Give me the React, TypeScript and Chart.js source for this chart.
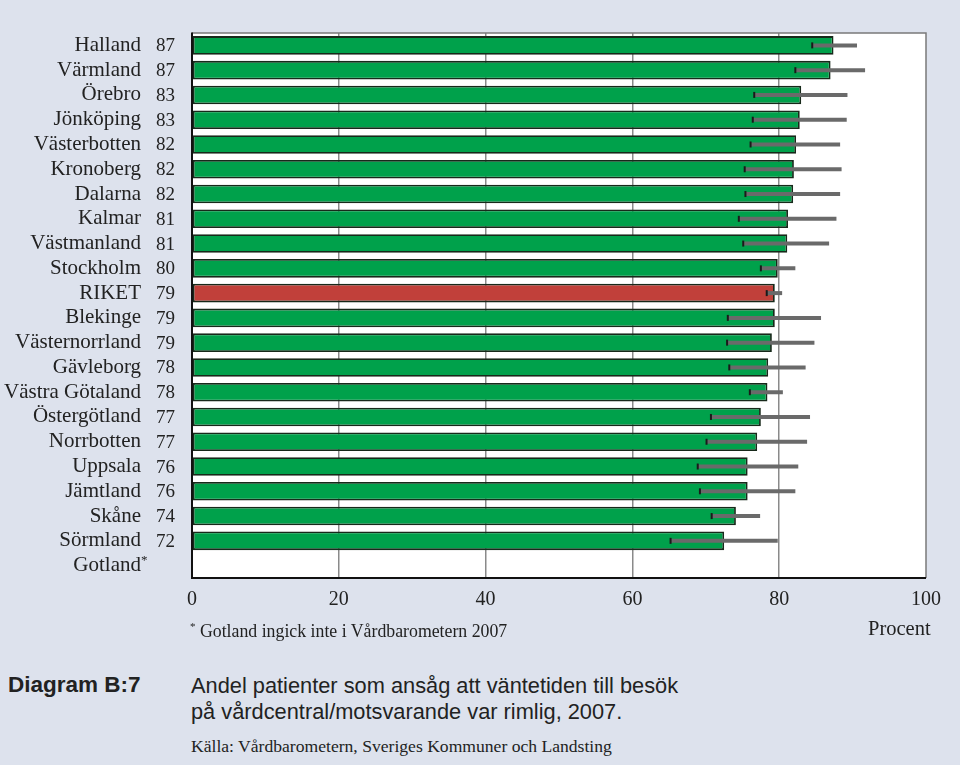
import React, { useEffect, useRef } from "react";
import { Chart, registerables } from "chart.js";

Chart.register(...registerables);

const regions = [
  "Halland", "Värmland", "Örebro", "Jönköping", "Västerbotten", "Kronoberg", "Dalarna",
  "Kalmar", "Västmanland", "Stockholm", "RIKET", "Blekinge", "Västernorrland", "Gävleborg",
  "Västra Götaland", "Östergötland", "Norrbotten", "Uppsala", "Jämtland", "Skåne", "Sörmland", "Gotland",
];
const valueLabels = ["87", "87", "83", "83", "82", "82", "82", "81", "81", "80", "79", "79", "79", "78", "78", "77", "77", "76", "76", "74", "72", ""];
const shares = [87.4, 87.0, 83.0, 82.8, 82.3, 82.0, 81.9, 81.2, 81.1, 79.8, 79.4, 79.4, 79.0, 78.5, 78.4, 77.5, 77.0, 75.7, 75.7, 74.1, 72.5, null];
const lowerBounds = [84.5, 82.2, 76.6, 76.4, 76.1, 75.3, 75.4, 74.5, 75.1, 77.5, 78.3, 73.0, 72.9, 73.2, 76.0, 70.7, 70.1, 68.9, 69.2, 70.8, 65.2, null];
const upperBounds = [90.6, 91.7, 89.3, 89.2, 88.3, 88.5, 88.3, 87.8, 86.8, 82.2, 80.4, 85.7, 84.8, 83.6, 80.5, 84.2, 83.8, 82.6, 82.2, 77.4, 79.8, null];
const xTicks = [0, 20, 40, 60, 80, 100];

const BG = "#dde2ed";
const GREEN = "#00a14b";
const RED = "#c1403a";
const SERIF = "'Liberation Serif', 'DejaVu Serif', serif";
const SANS = "'Liberation Sans', Arial, sans-serif";

const framePlugin = {
  id: "frame",
  beforeDraw(chart: any) {
    const { ctx, chartArea: a } = chart;
    ctx.save();
    ctx.fillStyle = "#ffffff";
    ctx.fillRect(a.left, a.top, a.right - a.left, a.bottom - a.top);
    ctx.restore();
  },
  afterDraw(chart: any) {
    const { ctx, chartArea: a, scales } = chart;
    ctx.save();
    ctx.strokeStyle = "#7a7a7a";
    ctx.lineWidth = 1.5;
    ctx.beginPath();
    ctx.moveTo(a.left, a.top);
    ctx.lineTo(a.right, a.top);
    ctx.lineTo(a.right, a.bottom);
    ctx.stroke();
    ctx.strokeStyle = "#111";
    ctx.lineWidth = 2;
    ctx.beginPath();
    ctx.moveTo(a.left, a.top - 0.5);
    ctx.lineTo(a.left, a.bottom);
    ctx.lineTo(a.right, a.bottom);
    ctx.stroke();
    // value labels
    const y = scales.y;
    ctx.fillStyle = "#222";
    ctx.font = `19px ${SERIF}`;
    ctx.textAlign = "right";
    ctx.textBaseline = "middle";
    valueLabels.forEach((v, i) => {
      if (v) ctx.fillText(v, 175, y.getPixelForValue(i) + 1);
    });
    // asterisk for Gotland
    ctx.font = `13px ${SERIF}`;
    ctx.textAlign = "left";
    ctx.fillText("*", 141, y.getPixelForValue(regions.length - 1) - 5);
    ctx.restore();
  },
};

const errorBarPlugin = {
  id: "errorBars",
  afterDatasetsDraw(chart: any) {
    const { ctx, scales } = chart;
    const meta = chart.getDatasetMeta(0);
    ctx.save();
    meta.data.forEach((bar: any, i: number) => {
      const lo = lowerBounds[i];
      const hi = upperBounds[i];
      if (lo == null || hi == null) return;
      const x1 = scales.x.getPixelForValue(lo);
      const x2 = scales.x.getPixelForValue(hi);
      const yy = bar.y;
      ctx.strokeStyle = "#6a6a6a";
      ctx.lineWidth = 4;
      ctx.beginPath();
      ctx.moveTo(x1, yy);
      ctx.lineTo(x2, yy);
      ctx.stroke();
      ctx.fillStyle = "#1a1a1a";
      ctx.fillRect(x1 - 1, yy - 3, 2, 6);
    });
    ctx.restore();
  },
};

function BarChart() {
  const ref = useRef<HTMLCanvasElement | null>(null);
  useEffect(() => {
    if (!ref.current) return;
    const chart = new Chart(ref.current, {
      type: "bar",
      data: {
        labels: regions,
        datasets: [
          {
            data: shares as any,
            backgroundColor: regions.map((r) => (r === "RIKET" ? RED : GREEN)),
            borderColor: "#17291a",
            borderWidth: 1.8,
            borderSkipped: false,
            barPercentage: 0.75,
            categoryPercentage: 1,
          },
        ],
      },
      options: {
        indexAxis: "y",
        animation: false,
        responsive: false,
        devicePixelRatio: 1,
        layout: { padding: { top: 33, right: 34, left: 0, bottom: 0 } },
        plugins: { legend: { display: false }, tooltip: { enabled: false }, title: { display: false } },
        scales: {
          x: {
            min: 0,
            max: 100,
            afterBuildTicks: (s: any) => {
              s.ticks = xTicks.map((v) => ({ value: v }));
            },
            afterFit: (s: any) => {
              s.height = 72;
            },
            grid: {
              drawTicks: false,
              lineWidth: 1.5,
              color: (c: any) => (c.tick && (c.tick.value === 0 || c.tick.value === 100) ? "rgba(0,0,0,0)" : "#8a8a8a"),
            },
            border: { display: false },
            ticks: {
              padding: 10,
              color: "#222",
              font: { family: SERIF, size: 20 },
              maxRotation: 0,
            },
          },
          y: {
            afterFit: (s: any) => {
              s.width = 192;
              s.paddingTop = 0;
              s.paddingBottom = 0;
            },
            grid: { display: false, drawTicks: false },
            border: { display: false },
            ticks: {
              padding: 51,
              color: "#222",
              font: { family: SERIF, size: 21 },
              autoSkip: false,
            },
          },
        },
      },
      plugins: [framePlugin, errorBarPlugin],
    });
    return () => chart.destroy();
  }, []);
  return <canvas ref={ref} width={960} height={650} style={{ display: "block", width: 960, height: 650 }} />;
}

export default function App() {
  const abs = (x: number, y: number): React.CSSProperties => ({ position: "absolute", left: x, top: y, whiteSpace: "nowrap", color: "#222" });
  return (
    <div style={{ position: "absolute", left: 0, top: 0, width: 960, height: 765, background: BG, overflow: "hidden" }}>
      <BarChart />
      <div style={{ ...abs(190, 620), fontFamily: SERIF, fontSize: 17.8 }}>
        <sup style={{ fontSize: 11 }}>*</sup> Gotland ingick inte i Vårdbarometern 2007
      </div>
      <div style={{ ...abs(868, 617), fontFamily: SERIF, fontSize: 20.5 }}>Procent</div>
      <div style={{ ...abs(8, 672), fontFamily: SANS, fontSize: 22.5, fontWeight: "bold" }}>Diagram B:7</div>
      <div style={{ ...abs(191, 673), fontFamily: SANS, fontSize: 21.8, lineHeight: "26px" }}>
        Andel patienter som ansåg att väntetiden till besök
        <br />
        på vårdcentral/motsvarande var rimlig, 2007.
      </div>
      <div style={{ ...abs(191, 736), fontFamily: SERIF, fontSize: 17.6 }}>Källa: Vårdbarometern, Sveriges Kommuner och Landsting</div>
    </div>
  );
}
